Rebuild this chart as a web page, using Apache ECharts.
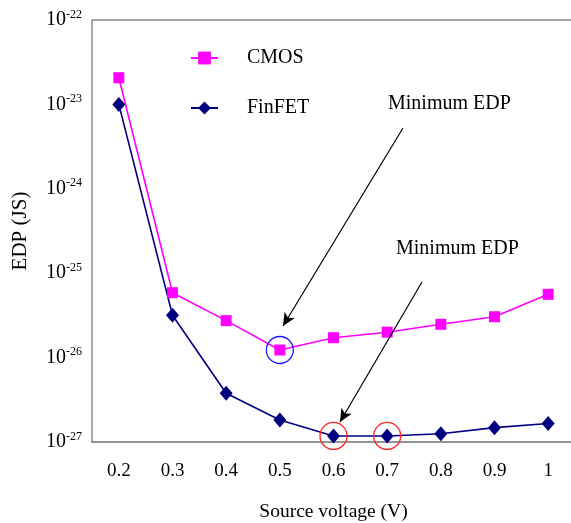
<!DOCTYPE html>
<html>
<head>
<meta charset="utf-8">
<script src="https://cdn.jsdelivr.net/npm/echarts@6/dist/echarts.min.js"></script>
<style>
 html, body { margin: 0; padding: 0; background: #fff; }
 #main { width: 571px; height: 523px; }
</style>
</head>
<body>
<div id="main"></div>
<script>
/** 数据 (EDP 单位 J·s) **/
var voltages = ['0.2', '0.3', '0.4', '0.5', '0.6', '0.7', '0.8', '0.9', '1'];
var cmosEdp = [2.07e-23, 5.87e-26, 2.74e-26, 1.23e-26, 1.72e-26, 2.0e-26, 2.48e-26, 3.05e-26, 5.62e-26];
var finfetEdp = [1.0e-23, 3.17e-26, 3.78e-27, 1.82e-27, 1.18e-27, 1.18e-27, 1.25e-27, 1.48e-27, 1.66e-27];
var yTickExp = [-27, -26, -25, -24, -23, -22];

// echarts 对极小的数取整会变成 0，所以按 1e-27 为单位画
var baseExp = yTickExp[0];
var unit = Math.pow(10, baseExp);
function scaled (arr) {
 return arr.map(function(v) { return v / unit; });
}

var font = '"Liberation Serif", "Times New Roman", serif';
var chart = echarts.init(document.getElementById('main'));

function circle (idx, val, color) {
 return {
  coord: [idx, val / unit],
  symbol: 'circle',
  symbolSize: 27,
  itemStyle: { color: 'rgba(0,0,0,0)', borderColor: color, borderWidth: 1.3 },
  label: { show: false }
 }
}

var option = {
 animation: false,
 backgroundColor: '#fff',
 textStyle: { fontFamily: font },
 grid: {
  left: 92,
  top: 20,
  width: 483,
  height: 422,
  containLabel: false,
  outerBoundsMode: 'none',
  show: true,
  borderColor: '#8c8c8c',
  borderWidth: 1.5
 },
 legend: {
  orient: 'vertical',
  left: 190,
  top: 48,
  padding: 0,
  itemWidth: 27,
  itemHeight: 16,
  itemGap: 30,
  data: ['CMOS', 'FinFET'],
  textStyle: { fontFamily: font, fontSize: 20, color: '#000', padding: [0, 0, 0, 24] }
 },
 xAxis: {
  type: 'category',
  data: voltages,
  boundaryGap: true,
  name: 'Source voltage (V)',
  nameLocation: 'middle',
  nameGap: 60,
  nameMoveOverlap: false,
  nameTextStyle: { fontFamily: font, fontSize: 19.5, color: '#000' },
  axisLine: { lineStyle: { color: '#8c8c8c', width: 1.5 } },
  axisTick: { alignWithLabel: true, inside: true, length: 6, lineStyle: { color: '#8c8c8c' } },
  axisLabel: { margin: 20, fontFamily: font, fontSize: 19, color: '#000' },
  splitLine: { show: false }
 },
 yAxis: {
  type: 'log',
  logBase: 10,
  min: 1,
  max: Math.pow(10, yTickExp[yTickExp.length - 1] - baseExp),
  name: 'EDP (JS)',
  nameLocation: 'middle',
  nameGap: 61,
  nameRotate: 90,
  nameMoveOverlap: false,
  nameTextStyle: { fontFamily: font, fontSize: 21, color: '#000' },
  axisLine: { lineStyle: { color: '#8c8c8c', width: 1.5 } },
  axisTick: { inside: true, length: 5, lineStyle: { color: '#8c8c8c' } },
  splitLine: { show: false },
  axisLabel: {
   margin: 10,
   showMinLabel: true,
   showMaxLabel: true,
   hideOverlap: false,
   formatter: function(v) {
    return '{b|10}{s|' + (Math.round(Math.log10(v)) + baseExp) + '}';
   },
   rich: {
    b: { fontFamily: font, fontSize: 20, color: '#000' },
    s: { fontFamily: font, fontSize: 12, color: '#000', padding: [0, 0, 11, 0] }
   }
  }
 },
 series: [
  {
   name: 'CMOS',
   type: 'line',
   data: scaled(cmosEdp),
   symbol: 'rect',
   symbolSize: 11,
   color: '#ff00ff',
   lineStyle: { width: 1.6 },
   markPoint: {
    silent: true,
    data: [circle(3, cmosEdp[3], '#1a1aff')]
   },
   markLine: {
    silent: true,
    symbol: ['none', 'arrow'],
    symbolSize: [9, 13],
    label: { show: false },
    lineStyle: { color: '#000', type: 'solid', width: 1.2 },
    data: [
     [{ x: 403, y: 128 }, { x: 283, y: 326 }],
     [{ x: 422, y: 282 }, { x: 340, y: 422 }]
    ]
   }
  },
  {
   name: 'FinFET',
   type: 'line',
   data: scaled(finfetEdp),
   symbol: 'diamond',
   symbolSize: [13, 15],
   color: '#000080',
   lineStyle: { width: 1.6 },
   markPoint: {
    silent: true,
    data: [circle(4, finfetEdp[4], '#ff2020'), circle(5, finfetEdp[5], '#ff2020')]
   }
  }
 ],
 graphic: [
  { type: 'text', left: 388, top: 94, style: { text: 'Minimum EDP', font: '20px ' + font, fill: '#000' } },
  { type: 'text', left: 396, top: 239, style: { text: 'Minimum EDP', font: '20px ' + font, fill: '#000' } }
 ]
};
chart.setOption(option);
</script>
</body>
</html>
